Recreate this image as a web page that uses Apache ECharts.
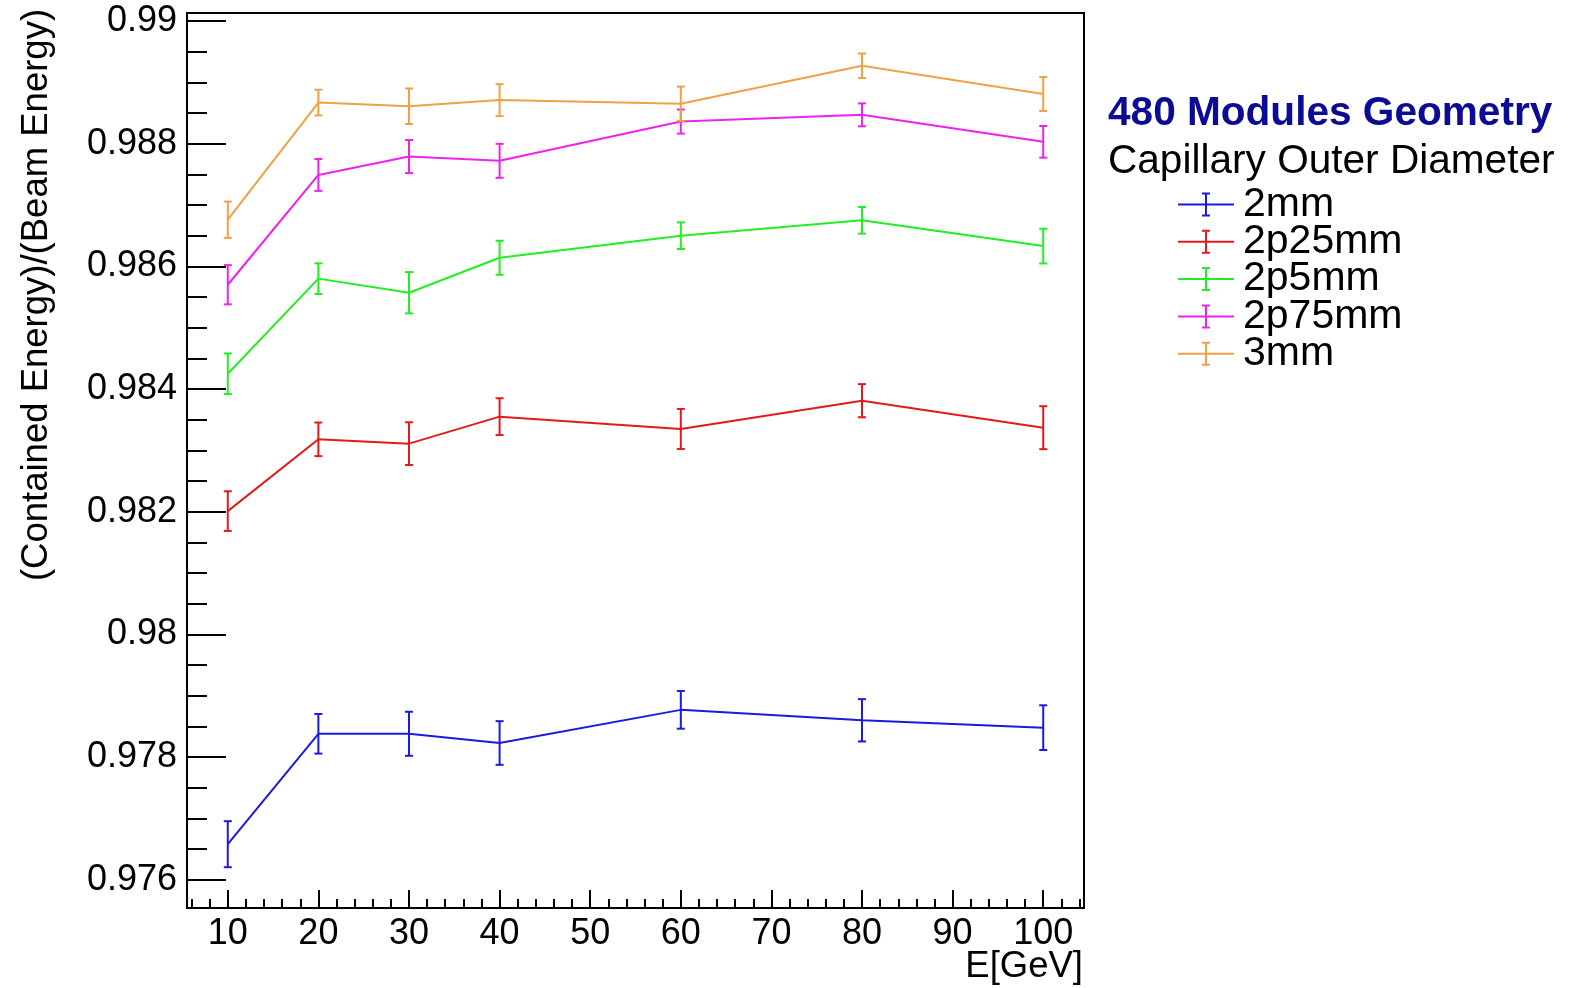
<!DOCTYPE html>
<html>
<head>
<meta charset="utf-8">
<script src="https://cdn.jsdelivr.net/npm/echarts@6/dist/echarts.min.js"></script>
<style>
html,body{margin:0;padding:0;background:#fff;}
#chart{width:1573px;height:988px;}
</style>
</head>
<body>
<div id="chart"></div>
<script>
// ---- data ----
const energies = [10, 20, 30, 40, 60, 80, 100];
const seriesNames = ['2mm', '2p25mm', '2p5mm', '2p75mm', '3mm'];
const seriesColors = ['#1a1ae0', '#e31a1a', '#22ee22', '#ee22ee', '#f2a045'];

const val2mm    = [0.97658, 0.97838, 0.97838, 0.97823, 0.97877, 0.97860, 0.97848];
const err2mm    = [0.000375, 0.000323, 0.000359, 0.000356, 0.000307, 0.000345, 0.000364];
const val2p25mm = [0.98201, 0.98318, 0.98311, 0.98355, 0.98335, 0.98381, 0.98337];
const err2p25mm = [0.000323, 0.000274, 0.000348, 0.000300, 0.000326, 0.000270, 0.000350];
const val2p5mm  = [0.98425, 0.98580, 0.98557, 0.98614, 0.98650, 0.98675, 0.98633];
const err2p5mm  = [0.000330, 0.000250, 0.000337, 0.000277, 0.000217, 0.000217, 0.000283];
const val2p75mm = [0.98570, 0.98749, 0.98779, 0.98772, 0.98836, 0.98847, 0.98803];
const err2p75mm = [0.000320, 0.000260, 0.000270, 0.000277, 0.000196, 0.000187, 0.000258];
const val3mm    = [0.98676, 0.98867, 0.98861, 0.98871, 0.98865, 0.98927, 0.98881];
const err3mm    = [0.000296, 0.000210, 0.000290, 0.000260, 0.000280, 0.000200, 0.000277];

const xTicks = [10, 20, 30, 40, 50, 60, 70, 80, 90, 100];
const xTickLabels = ['10', '20', '30', '40', '50', '60', '70', '80', '90', '100'];
const yTicks = [0.976, 0.978, 0.980, 0.982, 0.984, 0.986, 0.988, 0.990];
const yTickLabels = ['0.976', '0.978', '0.98', '0.982', '0.984', '0.986', '0.988', '0.99'];

const titleText = '480 Modules Geometry';
const subTitleText = 'Capillary Outer Diameter';
const xTitle = 'E[GeV]';
const yTitle = '(Contained Energy)/(Beam Energy)';

// ---- build ----
const allVals = [val2mm, val2p25mm, val2p5mm, val2p75mm, val3mm];
const allErrs = [err2mm, err2p25mm, err2p5mm, err2p75mm, err3mm];

const X_MIN = 5.5, X_MAX = 104.5;
const Y_MIN = 0.97554, Y_MAX = 0.99013;

// minor ticks: subdivide majors
const xMinor = [];
for (let i = 0; i <= xTicks.length; i++) {
  const step = 2;
  const base = i === 0 ? xTicks[0] - 10 : xTicks[i - 1];
  for (let k = 1; k < 5; k++) {
    const v = base + k * step;
    if (v > X_MIN && v < X_MAX) xMinor.push(v);
  }
}
const yMinor = [];
for (let i = 0; i < yTicks.length - 1; i++) {
  for (let k = 1; k < 4; k++) {
    yMinor.push(+(yTicks[i] + k * 0.0005).toFixed(5));
  }
}

const FONT = 'Liberation Sans, Arial, sans-serif';

const series = [];
seriesNames.forEach((name, si) => {
  const col = seriesColors[si];
  series.push({
    name: name,
    type: 'line',
    data: energies.map((e, i) => [e, allVals[si][i]]),
    showSymbol: false,
    symbol: 'none',
    lineStyle: { color: col, width: 2 },
    itemStyle: { color: col },
    z: 2 + si,
    animation: false
  });
  series.push({
    name: name + '_err',
    type: 'custom',
    data: energies.map((e, i) => [e, allVals[si][i], allErrs[si][i]]),
    encode: { x: 0, y: 1 },
    z: 2 + si,
    animation: false,
    renderItem: function (params, api) {
      const x = api.value(0), y = api.value(1), er = api.value(2);
      const top = api.coord([x, y + er]);
      const bot = api.coord([x, y - er]);
      const w = 4;
      const st = { stroke: col, lineWidth: 2 };
      return {
        type: 'group',
        children: [
          { type: 'line', shape: { x1: top[0], y1: top[1], x2: bot[0], y2: bot[1] }, style: st },
          { type: 'line', shape: { x1: top[0] - w, y1: top[1], x2: top[0] + w, y2: top[1] }, style: st },
          { type: 'line', shape: { x1: bot[0] - w, y1: bot[1], x2: bot[0] + w, y2: bot[1] }, style: st }
        ]
      };
    }
  });
});

const legendIcon = 'path://M0,11 L56,11 L56,13 L0,13 Z M27,1 L29,1 L29,23 L27,23 Z M24,0 L32,0 L32,2 L24,2 Z M24,22 L32,22 L32,24 L24,24 Z';

const option = {
  backgroundColor: '#fff',
  animation: false,
  grid: {
    left: 187, top: 13, width: 897, height: 895,
    show: true, borderColor: '#000', borderWidth: 2, backgroundColor: 'transparent',
    containLabel: false
  },
  title: {
    text: titleText,
    subtext: subTitleText,
    left: 1103, top: 88,
    itemGap: 7,
    textStyle: { fontSize: 40.6, fontWeight: 'bold', color: '#0b0b96', fontFamily: FONT, lineHeight: 41 },
    subtextStyle: { fontSize: 40.6, color: '#000', fontFamily: FONT, lineHeight: 41 }
  },
  legend: {
    orient: 'vertical',
    left: 1173, top: 179,
    itemWidth: 56, itemHeight: 24, itemGap: -3.7,
    data: seriesNames.map(n => ({ name: n, icon: legendIcon })),
    textStyle: { fontSize: 41, fontFamily: FONT, color: '#000', padding: [0, 0, 0, 4] },
    selectedMode: false
  },
  xAxis: [
    {
      type: 'value', min: X_MIN, max: X_MAX, position: 'bottom',
      axisLine: { show: true, onZero: false, lineStyle: { color: '#000', width: 2 } },
      axisTick: { show: true, inside: true, length: 18, customValues: xTicks, lineStyle: { color: '#000', width: 2 } },
      axisLabel: {
        show: true, customValues: xTicks, margin: 8,
        fontSize: 36, fontFamily: FONT, color: '#000',
        formatter: function (v) { const i = xTicks.indexOf(v); return i >= 0 ? xTickLabels[i] : ''; }
      },
      splitLine: { show: false }
    },
    {
      type: 'value', min: X_MIN, max: X_MAX, position: 'bottom',
      axisLine: { show: false, onZero: false },
      axisTick: { show: true, inside: true, length: 9, customValues: xMinor, lineStyle: { color: '#000', width: 2 } },
      axisLabel: { show: false },
      splitLine: { show: false }
    }
  ],
  yAxis: [
    {
      type: 'value', min: Y_MIN, max: Y_MAX, position: 'left',
      axisLine: { show: true, onZero: false, lineStyle: { color: '#000', width: 2 } },
      axisTick: { show: true, inside: true, length: 39, customValues: yTicks, lineStyle: { color: '#000', width: 2 } },
      axisLabel: {
        show: true, customValues: yTicks, margin: 10,
        fontSize: 36, fontFamily: FONT, color: '#000',
        formatter: function (v) {
          let best = -1, bd = 1;
          yTicks.forEach((t, i) => { const d = Math.abs(t - v); if (d < bd) { bd = d; best = i; } });
          return bd < 1e-7 ? yTickLabels[best] : '';
        }
      },
      splitLine: { show: false }
    },
    {
      type: 'value', min: Y_MIN, max: Y_MAX, position: 'left',
      axisLine: { show: false, onZero: false },
      axisTick: { show: true, inside: true, length: 20, customValues: yMinor, lineStyle: { color: '#000', width: 2 } },
      axisLabel: { show: false },
      splitLine: { show: false }
    }
  ],
  graphic: [
    {
      type: 'text', x: 37, y: 295, rotation: Math.PI / 2,
      style: { text: yTitle, fontSize: 36.5, fontFamily: FONT, fill: '#000',
        align: 'center', verticalAlign: 'middle', textAlign: 'center', textVerticalAlign: 'middle' }
    },
    {
      type: 'text', x: 1083, y: 967,
      style: { text: xTitle, fontSize: 36.5, fontFamily: FONT, fill: '#000',
        align: 'right', verticalAlign: 'middle', textAlign: 'right', textVerticalAlign: 'middle' }
    }
  ],
  series: series
};

const chart = echarts.init(document.getElementById('chart'), null, { renderer: 'canvas' });
chart.setOption(option);
</script>
</body>
</html>
